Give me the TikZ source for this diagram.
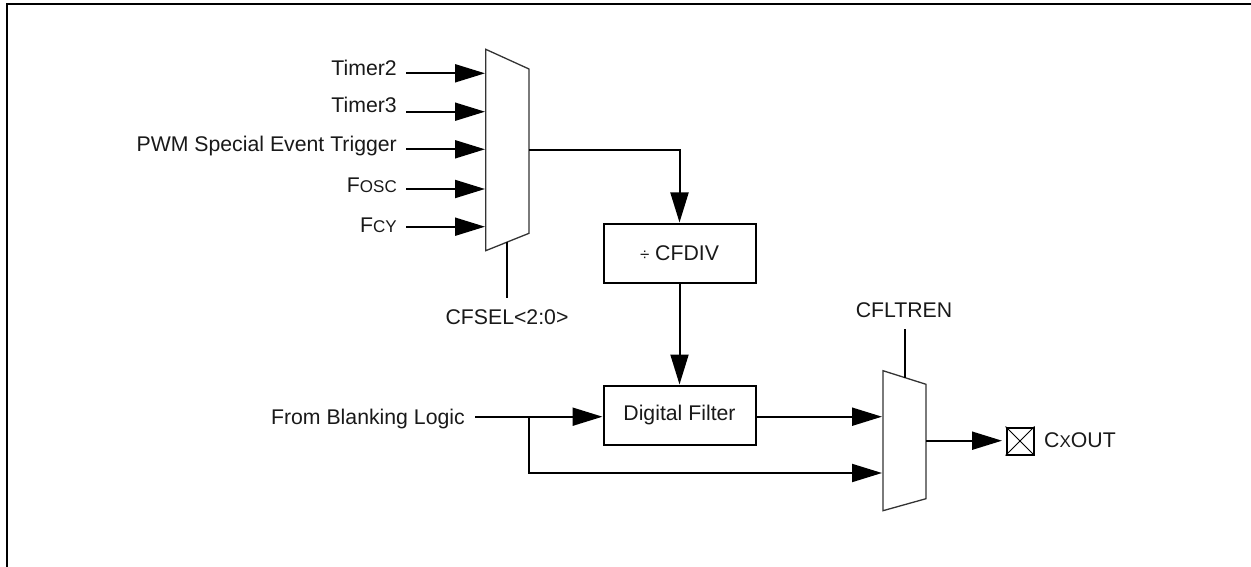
\documentclass[tikz,border=0pt]{standalone}
\usepackage{fontspec}
\setmainfont{Liberation Sans}
\usetikzlibrary{arrows.meta}
\newcommand{\lbl}{\fontsize{21.25}{25}\selectfont}
\newcommand{\smc}[1]{{\fontsize{17}{20}\selectfont #1}}
\tikzset{
  sig/.style={line width=2pt,-{Triangle[length=30pt,width=18pt]}},
  wire/.style={line width=2pt},
  muxbody/.style={line width=1.3pt,draw=black!80,line join=miter},
  txt/.style={inner sep=0pt,font=\lbl,text=black!90},
  blockbox/.style={draw,line width=2pt,minimum width=152pt,minimum height=59pt,inner sep=0pt,font=\lbl,text=black!90}
}
\begin{document}
\begin{tikzpicture}[x=1pt,y=-1pt]
    \useasboundingbox (0,0) rectangle (1251,567);
    \draw[line width=2pt](7,567)--(7,4.5)--(1251,4.5);

    \draw[muxbody](485.7,49.3)--(529,69)--(529,233.3)--(485.7,250.7)--cycle;
    \draw[muxbody](883,370.7)--(926,384.3)--(926,498.7)--(883,510.7)--cycle;

    \node[txt,anchor=base east](timertwo) at (397,75.7){Timer2};
    \node[txt,anchor=base east](timerthree) at (397,112.7){Timer3};
    \node[txt,anchor=base east](pwmtrig) at (397,151.7){PWM Special Event Trigger};
    \node[txt,anchor=base east](fosc) at (397,192.7){F\smc{OSC}};
    \node[txt,anchor=base east](fcy) at (397,232){F\smc{CY}};
    \node[txt,anchor=base](cfsel) at (507,324){CFSEL<2:0>};
    \node[txt,anchor=base east](blank) at (465,424){From Blanking Logic};
    \node[txt,anchor=base](cfltren) at (904,317.7){CFLTREN};
    \node[txt,anchor=base west](cxout) at (1044,447.7){C\smc{X}OUT};
    \node[blockbox](divbox) at (679.5,253){\smc{÷} CFDIV};
    \node[blockbox](filter) at (679.5,415){Digital Filter};
    \node[draw,line width=2pt,minimum size=27pt,inner sep=0pt](pad) at (1020,441){};
    \draw[line width=.9pt](pad.north west)--(pad.south east);
    \draw[line width=.9pt](pad.north east)--(pad.south west);

    \coordinate(intwo) at (406,73.3);
    \coordinate(inthree) at (406,111.7);
    \coordinate(inpwm) at (406,149.3);
    \coordinate(inosc) at (406,189);
    \coordinate(incy) at (406,226.7);
    \coordinate(muxa) at (485,73.3);
    \coordinate(muxb) at (485,111.7);
    \coordinate(muxc) at (485,149.3);
    \coordinate(muxd) at (485,189);
    \coordinate(muxe) at (485,226.7);
    \draw[sig](intwo)--(muxa);
    \draw[sig](inthree)--(muxb);
    \draw[sig](inpwm)--(muxc);
    \draw[sig](inosc)--(muxd);
    \draw[sig](incy)--(muxe);

    \coordinate(muxout) at (529,150);
    \draw[sig](muxout)-|(divbox.north);
    \draw[sig](divbox.south)--(filter.north);
    \coordinate(selbot) at (507,298);
    \coordinate(seltop) at (507,242);
    \draw[wire](seltop)--(selbot);

    \coordinate(blankout) at (475,416.7);
    \coordinate(split) at (529,416.7);
    \coordinate(filterin) at (filter.west|-split);
    \draw[sig](blankout)--(filterin);
    \coordinate(muxfa) at (882,416.7);
    \coordinate(muxfb) at (882,473);
    \coordinate(filterout) at (filter.east|-split);
    \draw[sig](filterout)--(muxfa);
    \draw[sig](split)|-(muxfb);

    \coordinate(entop) at (905,329);
    \coordinate(enbot) at (905,378);
    \draw[wire](entop)--(enbot);
    \coordinate(muxfout) at (926,440.7);
    \coordinate(padin) at (1002,440.7);
    \draw[sig](muxfout)--(padin);
\end{tikzpicture}
\end{document}
